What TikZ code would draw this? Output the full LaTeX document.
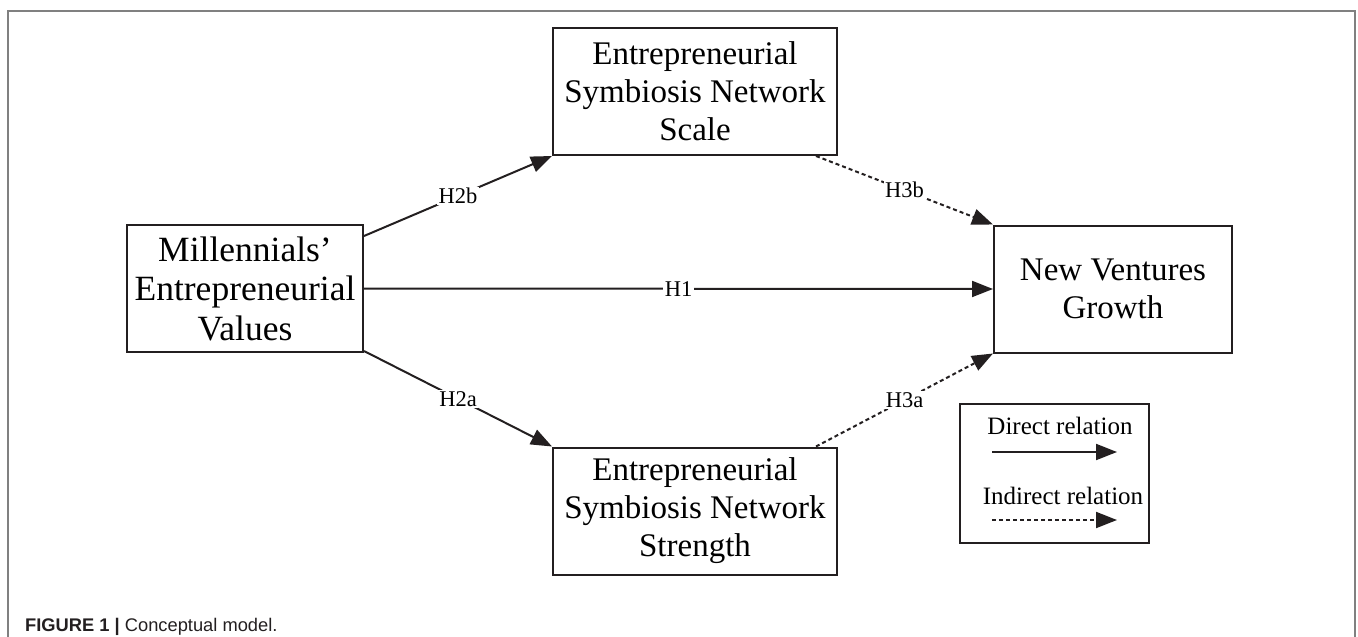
\documentclass[tikz,border=0pt]{standalone}
\usepackage{fontspec}
\setmainfont{Liberation Serif}
\newfontfamily\capfont{Liberation Sans}
\usetikzlibrary{arrows.meta,calc}
\definecolor{ink}{HTML}{231F20}
\definecolor{framegray}{HTML}{808080}
\begin{document}
\begin{tikzpicture}[x=1pt,y=-1pt,
  box/.style={draw=ink,line width=2pt,minimum height=127pt,align=center,
    font=\fontsize{33}{38}\selectfont,inner sep=0pt,text=black},
  rel/.style={draw=ink,line width=2pt,-{Triangle[length=21pt,width=16pt]}},
  indir/.style={rel,dash pattern=on 4pt off 3pt},
  lab/.style={fill=white,inner sep=1.5pt,font=\fontsize{22.5}{24}\selectfont},
  legtext/.style={font=\fontsize{25}{28}\selectfont,inner sep=0pt}]
\useasboundingbox (0,0) rectangle (1358,637);
% frame
\draw[framegray,line width=2pt] (8,637) -- (8,11) -- (1355,11) -- (1355,637);
% boxes
\node[box,minimum width=236pt,font=\fontsize{35.5}{39.5}\selectfont] (L) at (245,288.5) {Millennials’\\Entrepreneurial\\Values};
\node[box,minimum width=284pt] (T) at (695,91.5) {Entrepreneurial\\Symbiosis Network\\Scale};
\node[box,minimum width=284pt] (B) at (695,511) {Entrepreneurial\\Symbiosis Network\\Strength};
\node[box,minimum width=238pt] (R) at (1113,289) {New Ventures\\Growth};
% connectors
\draw[rel] ($(L.north east)+(0,12)$) -- node[lab] {H2b} (T.south west);
\draw[rel] ($(L.south east)+(0,-2)$) -- node[lab] {H2a} (B.north west);
\draw[rel] (L.east) -- node[lab] {H1} (R.west);
\draw[indir] ($(T.south east)+(-22,0)$) -- node[lab] {H3b} (R.north west);
\draw[indir] ($(B.north east)+(-22,0)$) -- node[lab] {H3a} (R.south west);
% legend
\node[draw=ink,line width=1.2pt,minimum width=189pt,minimum height=139pt,inner sep=0pt] (G) at (1054.5,473.5) {};
\node[legtext] (dt) at (1060,426) {Direct relation};
\node[legtext] (it) at (1063,496) {Indirect relation};
\coordinate (d1) at (992,452);
\coordinate (d2) at (1117,452);
\coordinate (i1) at (992,520);
\coordinate (i2) at (1117,520);
\draw[rel] (d1) -- (d2);
\draw[indir] (i1) -- (i2);
% caption
\node[anchor=base west,inner sep=0pt,font=\capfont\fontsize{18.3}{21}\selectfont,text=ink] (cap) at (25,631)
  {\textbf{FIGURE 1 |} Conceptual model.};
\end{tikzpicture}
\end{document}
